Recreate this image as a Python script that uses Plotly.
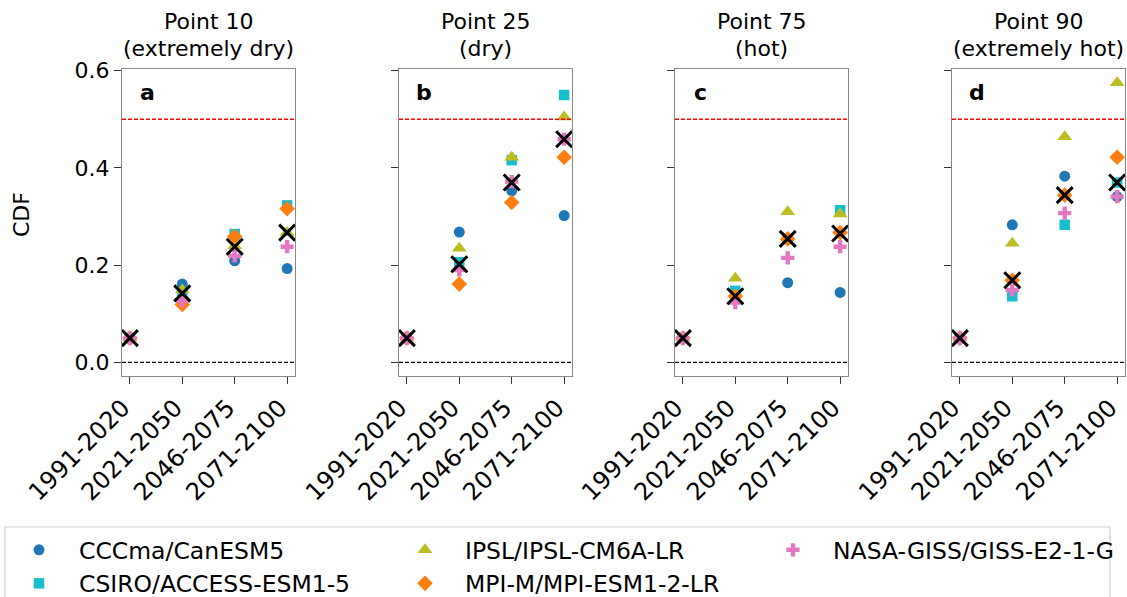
import plotly.graph_objects as go

# ---------------- data ----------------
periods = ["1991-2020", "2021-2050", "2046-2075", "2071-2100"]
panel_titles = ["Point 10", "Point 25", "Point 75", "Point 90"]
panel_subtitles = ["(extremely dry)", "(dry)", "(hot)", "(extremely hot)"]
panel_letters = ["a", "b", "c", "d"]

model_names = [
    "CCCma/CanESM5",
    "CSIRO/ACCESS-ESM1-5",
    "IPSL/IPSL-CM6A-LR",
    "MPI-M/MPI-ESM1-2-LR",
    "NASA-GISS/GISS-E2-1-G",
]

# CDF values per panel (a, b, c, d), each over the four periods
canesm5 = [
    [0.05, 0.161, 0.209, 0.193],
    [0.05, 0.268, 0.353, 0.302],
    [0.05, 0.140, 0.164, 0.144],
    [0.05, 0.283, 0.383, 0.341],
]
access_esm = [
    [0.05, 0.145, 0.264, 0.323],
    [0.05, 0.206, 0.416, 0.550],
    [0.05, 0.147, 0.254, 0.313],
    [0.05, 0.136, 0.283, 0.370],
]
ipsl_cm6a = [
    [0.05, 0.149, 0.240, 0.267],
    [0.05, 0.235, 0.422, 0.505],
    [0.05, 0.173, 0.310, 0.305],
    [0.05, 0.245, 0.464, 0.575],
]
mpi_esm = [
    [0.05, 0.119, 0.259, 0.316],
    [0.05, 0.161, 0.329, 0.422],
    [0.05, 0.136, 0.254, 0.267],
    [0.05, 0.169, 0.344, 0.422],
]
giss_e2 = [
    [0.05, 0.127, 0.219, 0.238],
    [0.05, 0.190, 0.372, 0.459],
    [0.05, 0.123, 0.215, 0.238],
    [0.05, 0.149, 0.307, 0.341],
]
ensemble_mean = [
    [0.05, 0.142, 0.238, 0.267],
    [0.05, 0.202, 0.370, 0.459],
    [0.05, 0.136, 0.254, 0.265],
    [0.05, 0.169, 0.344, 0.370],
]

y_tick_vals = [0.0, 0.2, 0.4, 0.6]
y_tick_text = ["0.0", "0.2", "0.4", "0.6"]

# ---------------- styling ----------------
W, H = 1127, 597
FONT = "DejaVu Sans"
FS = 22
XFS = 24
LFS = 23.5

model_data = [canesm5, access_esm, ipsl_cm6a, mpi_esm, giss_e2]
model_colors = ["#1f77b4", "#17becf", "#bcbd22", "#ff7f0e", "#e377c2"]
model_symbols = ["circle", "square", "triangle-up", "diamond", "cross"]
model_sizes = [11, 10.5, 13, 12, 11]
legend_ids = ["legend", "legend", "legend2", "legend2", "legend3"]

# panel boxes in pixels (left, right)
panel_px = [(122, 295), (399, 572), (675, 848), (952, 1125)]
top_px, bot_px = 69, 376

fig = go.Figure()

for p in range(4):
    ax = "" if p == 0 else str(p + 1)
    xref = "x" + ax
    yref = "y" + ax
    for m in range(5):
        fig.add_trace(go.Scatter(
            x=periods, y=model_data[m][p], mode="markers",
            name=model_names[m],
            marker=dict(symbol=model_symbols[m], color=model_colors[m],
                        size=model_sizes[m], line=dict(width=0)),
            xaxis=xref, yaxis=yref,
            legend=legend_ids[m],
            showlegend=(p == 0),
        ))
    fig.add_trace(go.Scatter(
        x=periods, y=ensemble_mean[p], mode="markers",
        name="mean",
        marker=dict(symbol="x-thin", color="black", size=16,
                    line=dict(width=3, color="black")),
        xaxis=xref, yaxis=yref, showlegend=False,
    ))

layout = dict(
    width=W, height=H,
    margin=dict(l=0, r=0, t=0, b=0, autoexpand=False),
    paper_bgcolor="white", plot_bgcolor="white",
    font=dict(family=FONT, size=FS, color="black"),
)

shapes = []
annotations = []
for p in range(4):
    ax = "" if p == 0 else str(p + 1)
    l, r = panel_px[p]
    layout["xaxis" + ax] = dict(
        domain=[l / W, r / W], anchor="y" + ax,
        type="category", categoryorder="array", categoryarray=periods,
        range=[-0.15, 3.15],
        tickangle=-45, ticks="outside", ticklen=7, tickwidth=1.3,
        tickcolor="#333", showline=True, mirror=True, linecolor="#888",
        linewidth=1.3, showgrid=False, zeroline=False,
        ticklabelshift=-7,
        tickfont=dict(size=XFS, family=FONT, color="black"),
    )
    layout["yaxis" + ax] = dict(
        domain=[1 - bot_px / H, 1 - top_px / H], anchor="x" + ax,
        range=[-0.028, 0.6035],
        tickvals=y_tick_vals, ticktext=y_tick_text,
        showticklabels=(p == 0),
        ticks="outside", ticklen=7, tickwidth=1.3, tickcolor="#333",
        showline=True, mirror=True, linecolor="#888", linewidth=1.3,
        showgrid=False, zeroline=False,
        tickfont=dict(size=FS, family=FONT, color="black"),
    )
    xd = "x" + ax + " domain"
    yy = "y" + ax
    shapes.append(dict(type="line", xref=xd, yref=yy, x0=0, x1=1, y0=0.5, y1=0.5,
                       line=dict(color="red", width=1.4, dash="4px,2px")))
    shapes.append(dict(type="line", xref=xd, yref=yy, x0=0, x1=1, y0=0.0, y1=0.0,
                       line=dict(color="black", width=1.2, dash="4px,2px")))
    cx = (l + r) / 2 / W
    annotations.append(dict(text=panel_titles[p], xref="paper", yref="paper",
                            x=cx, y=1 - 22 / H, xanchor="center", yanchor="middle",
                            showarrow=False, font=dict(size=FS, family=FONT)))
    annotations.append(dict(text=panel_subtitles[p], xref="paper", yref="paper",
                            x=cx, y=1 - 49 / H, xanchor="center", yanchor="middle",
                            showarrow=False, font=dict(size=FS, family=FONT)))
    annotations.append(dict(text="<b>" + panel_letters[p] + "</b>",
                            xref=xd, yref="y" + ax + " domain",
                            x=0.145, y=0.925, xanchor="center", yanchor="middle",
                            showarrow=False, font=dict(size=FS, family=FONT)))

annotations.append(dict(text="CDF", xref="paper", yref="paper",
                        x=22 / W, y=1 - 215 / H, xanchor="center", yanchor="middle",
                        textangle=-90, showarrow=False, font=dict(size=FS, family=FONT)))

# legend frame
shapes.append(dict(type="rect", xref="paper", yref="paper",
                   x0=5 / W, x1=1110 / W, y0=-0.02, y1=1 - 527 / H,
                   line=dict(color="#d0d0d0", width=1.2), fillcolor="white",
                   layer="below"))

leg_common = dict(bgcolor="rgba(0,0,0,0)", borderwidth=0,
                  font=dict(size=LFS, family=FONT, color="black"),
                  orientation="v", yanchor="top", xanchor="left",
                  tracegroupgap=0, itemsizing="trace", itemwidth=70)
layout["legend"] = dict(leg_common, x=-1 / W, y=1 - 528 / H)
layout["legend2"] = dict(leg_common, x=385 / W, y=1 - 528 / H)
layout["legend3"] = dict(leg_common, x=753 / W, y=1 - 528 / H)

layout["shapes"] = shapes
layout["annotations"] = annotations
fig.update_layout(**layout)

fig.write_html("out.html")
